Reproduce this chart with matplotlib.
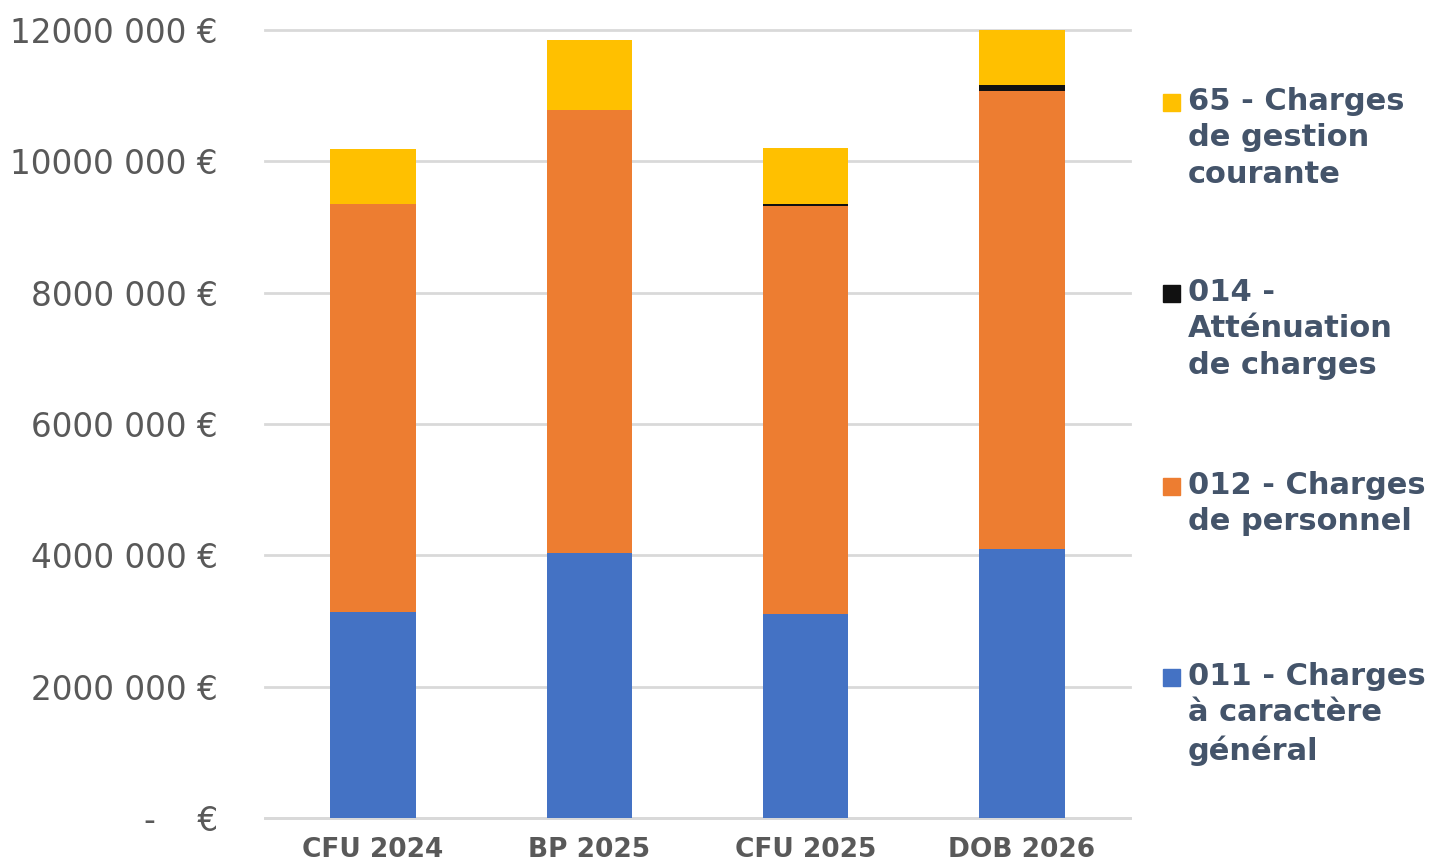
import matplotlib
matplotlib.use("Agg")
import matplotlib.pyplot as plt
from matplotlib.patches import Rectangle
import numpy as np

categories = ["CFU 2024", "BP 2025", "CFU 2025", "DOB 2026"]
s011 = [3140000, 4035000, 3110000, 4095000]
s012 = [6210000, 6745000, 6210000, 6975000]
s014 = [0, 0, 30000, 90000]
s65 = [840000, 1070000, 850000, 850000]

series_labels = ["011 - Charges\nà caractère\ngénéral",
                 "012 - Charges\nde personnel",
                 "014 -\nAtténuation\nde charges",
                 "65 - Charges\nde gestion\ncourante"]
colors = ["#4472C4", "#ED7D31", "#111111", "#FFC000"]

yticks = [0, 2000000, 4000000, 6000000, 8000000, 10000000, 12000000]
ytick_labels = ["-    €", "2000 000 €", "4000 000 €", "6000 000 €",
                "8000 000 €", "10000 000 €", "12000 000 €"]

plt.rcParams['font.family'] = ['DejaVu Sans']
fig = plt.figure(figsize=(14.32, 8.64), dpi=100)
W, H = 1432, 864
ax = fig.add_axes([265 / W, 1 - 818 / H, (1130 - 265) / W, (818 - 30) / H])

x = np.arange(len(categories))
bottom = np.zeros(len(categories))
for vals, c in zip([s011, s012, s014, s65], colors):
    ax.bar(x, vals, width=0.395, bottom=bottom, color=c, zorder=3)
    bottom += np.array(vals)

ax.set_xlim(-0.5, len(categories) - 0.5)
ax.set_ylim(0, 12000000)
ax.set_yticks(yticks)
ax.set_yticklabels(ytick_labels, fontsize=23.5, color="#595959")
ax.set_xticks(x)
ax.set_xticklabels(categories, fontsize=19, fontweight="bold", color="#595959")
ax.tick_params(axis="y", length=0, pad=34)
ax.tick_params(axis="x", length=0, pad=13.5)

for sp in ["left", "right", "top"]:
    ax.spines[sp].set_visible(False)
ax.spines["bottom"].set_color("#D9D9D9")
ax.spines["bottom"].set_linewidth(2)
ax.grid(axis="y", color="#D9D9D9", linewidth=2, zorder=0)
ax.set_axisbelow(True)
for gl in ax.get_ygridlines():
    gl.set_clip_on(False)

# legend (top item = last series)
legend_y = [103, 294, 487, 678]
for i, idx in enumerate([3, 2, 1, 0]):
    yc = legend_y[i]
    fig.patches.append(Rectangle((1163 / W, 1 - (yc + 8) / H), 17 / W, 17 / H,
                                 transform=fig.transFigure, color=colors[idx]))
    fig.text(1188 / W, 1 - (yc - 16) / H, series_labels[idx], fontsize=22,
             fontweight="bold", color="#44546A", va="top", ha="left",
             linespacing=1.32)

fig.savefig("out.png", dpi=100)
